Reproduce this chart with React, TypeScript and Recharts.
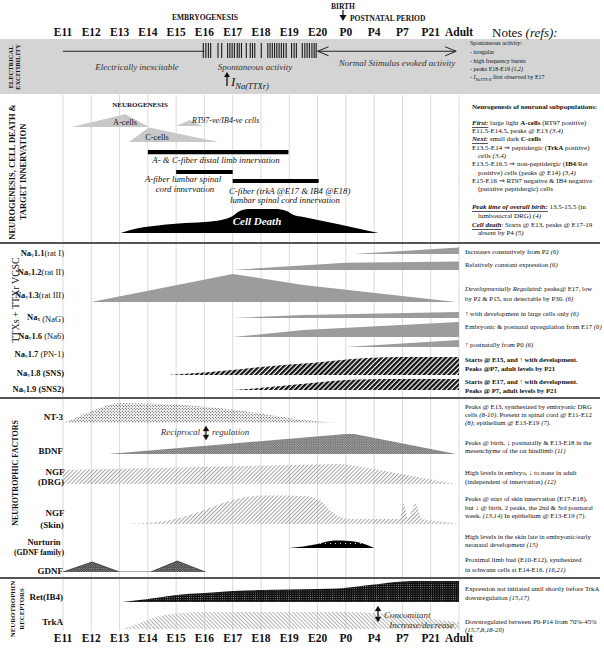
import React from 'react'
import { AreaChart, Area, LineChart, Line, XAxis, YAxis, ReferenceLine } from 'recharts'

const W = 604
const H = 648
const X0 = 63
const X1 = 459
const PLOT_W = X1 - X0
const SPAN = 32
const SERIF = '"Liberation Serif", "Times New Roman", serif'
const GRAY = '#9c9c9c'

// time axis (index of each timepoint is its x value)
const TIMEPOINTS = ['E11', 'E12', 'E13', 'E14', 'E15', 'E16', 'E17', 'E18', 'E19', 'E20', 'P0', 'P4', 'P7', 'P21', 'Adult']
const TICK_IDX = TIMEPOINTS.map((_, i) => i)

// electrical excitability
const INEXCITABLE = [0, 5]
const EVOKED = [9, 13.9]
const SPIKES = [4.96, 5.05, 5.14, 5.22, 5.48, 5.61, 5.82, 5.9, 5.98, 6.06, 6.16, 6.23, 6.31, 6.48, 6.62, 6.7, 6.78, 7.01,
  7.24, 7.32, 7.4, 7.48, 7.56, 7.64, 7.72, 7.8, 7.89, 8.08, 8.17, 8.25, 8.46, 8.55, 8.63, 8.71, 8.8, 8.88, 8.95]

// neurogenesis, innervation, cell death  [time, level]
const A_CELLS = [[0.3, 0], [2.2, 12.7], [3.05, 0]]
const RT97_CELLS = [[4, 0], [4.48, 6], [4.92, 0]]
const C_CELLS = [[2.33, 0], [3.04, 14.5], [5.48, 0]]
const DISTAL_LIMB = [3, 7.97]
const A_FIBER_SC = [4, 6]
const C_FIBER_SC = [6, 9.04]
const CELL_DEATH = [[2.04, 0], [2.6, 4.5], [3.2, 7], [4.1, 9.5], [5, 11], [5.6, 13], [6, 17], [6.25, 22], [6.6, 24],
  [7.5, 24], [7.9, 22], [8.15, 18], [8.5, 16], [11.15, 0]]

// sodium channels
const NAV11 = [[10.3, 0], [14, 6.5]]
const NAV12 = [[6, 0], [8, 3.7], [10, 7.3], [14, 8.4]]
const NAV13 = [[1, 0], [6, 28], [8.5, 17], [13.9, 0]]
const NAX = [[6, 0], [8.5, 3], [14, 6]]
const NAV16 = [[6, 0], [8.5, 7], [14, 15]]
const NAV17 = [[10, 0], [14, 7]]
const NAV18 = [[3.7, 0], [4.2, 1], [6, 5], [7, 8], [8, 10.5], [8.8, 12], [9.5, 14], [10.75, 17], [12, 18], [14, 18]]
const NAV19 = [[6, 0], [6.5, 1], [7.5, 3.5], [8.8, 7], [9.5, 9], [10.5, 10.5], [12, 11], [14, 11]]

// neurotrophic factors
const NT3 = [[0, 0], [0.37, 4], [1.3, 15], [2, 20], [3.6, 19], [5.8, 14], [7.1, 9], [8.2, 4], [9.8, 0]]
const BDNF = [[1.6, 0], [10, 20], [10.3, 20], [13.9, 0]]
const NGF_DRG = [[0, 14], [9.8, 20], [10.4, 18], [13.9, 0]]
const NGF_SKIN = [[2.2, 0], [3.6, 3], [4.8, 12], [6, 24], [7.1, 28.5], [8.5, 28], [9.07, 24], [9.43, 14], [9.8, 7],
  [10.2, 5], [11.9, 5], [12.04, 20], [12.2, 6], [12.46, 20], [12.7, 5], [13.5, 2], [14, 0]]
const NURTURIN = [[8, 0], [8.5, 1.5], [9, 4], [9.6, 7.5], [10.1, 7], [10.6, 4.5], [11, 0]]
const GDNF = [[0, 0], [1.03, 10], [2, 0], [3.1, 0], [4.04, 11], [5.03, 0]]

// receptors
const RET = [[2.1, 0], [3, 3], [4, 7], [5, 9], [6, 11], [7, 12], [8, 12.5], [9, 13], [9.7, 13.5], [11, 17.5], [12, 20.5], [12.3, 21], [14.1, 21]]
const TRKA = [[2.1, 0], [2.6, 5], [3.2, 11], [3.6, 14], [4.2, 16], [5, 17], [10, 17], [14.1, 6]]

const TRACKS = [
  { pts: A_CELLS, base: 127, fill: '#c8c8c8' },
  { pts: RT97_CELLS, base: 126, fill: '#c8c8c8' },
  { pts: C_CELLS, base: 142, fill: '#c8c8c8' },
  { pts: CELL_DEATH, base: 233, fill: '#000', curve: 'monotone' },
  { pts: NAV11, base: 254, fill: GRAY },
  { pts: NAV12, base: 270, fill: GRAY },
  { pts: NAV13, base: 302, fill: GRAY },
  { pts: NAX, base: 318, fill: GRAY },
  { pts: NAV16, base: 337, fill: GRAY },
  { pts: NAV17, base: 347, fill: GRAY },
  { pts: NAV18, base: 375, fill: 'url(#stripeBlack)', curve: 'monotone' },
  { pts: NAV19, base: 390, fill: 'url(#stripeBlack)', curve: 'monotone' },
  { pts: NT3, base: 423, fill: 'url(#dotsSparse)', curve: 'monotone' },
  { pts: BDNF, base: 454, fill: 'url(#dotsGray)' },
  { pts: NGF_DRG, base: 484, fill: 'url(#hatchFwd)' },
  { pts: NGF_SKIN, base: 524, fill: 'url(#hatchFwd)', curve: 'monotone' },
  { pts: NURTURIN, base: 548, fill: 'url(#dotsBlack)', curve: 'monotone' },
  { pts: GDNF, base: 572, fill: 'url(#dotsDark)', stroke: '#333' },
  { pts: RET, base: 602, fill: 'url(#dotsRet)', curve: 'monotone' },
  { pts: TRKA, base: 629, fill: 'url(#hatchBack)', curve: 'monotone' },
]

const BARS = [
  { span: DISTAL_LIMB, top: 150 },
  { span: A_FIBER_SC, top: 169.5 },
  { span: C_FIBER_SC, top: 178.5 },
]

const NOTES_ELEC: [number, string][] = [
  [43, 'Spontaneous activity:'],
  [52, '- irregular'],
  [60.5, '- high frequency bursts'],
  [69, '- peaks E18-E19 _(1,2)_'],
]

const NOTES_NEURO: [number, string, number?][] = [
  [107, '*Neurogenesis of neuronal subpopulations:*'],
  [123, '~First:~ large light *A-cells* (RT97 positive)'],
  [131, 'E11.5-E14.5, peaks @ E13 _(3,4)_'],
  [139, '~Next:~ small dark *C-cells*'],
  [147.5, 'E13.5-E14 ⇒ peptidergic (*TrkA* positive)'],
  [156, 'cells _(3,4)_', 1],
  [164, 'E13.5-E16.5 ⇒ non-peptidergic (*IB4*/Ret'],
  [172.5, 'positive) cells (peaks @ E14) _(3,4)_', 1],
  [181, 'E15-E16 ⇒ RT97 negative & IB4 negative'],
  [189, '(putative peptidergic) cells', 1],
  [207, '~Peak time of overall birth:~ 13.5-15.5 (in'],
  [216, 'lumbosacral DRG) _(4)_', 1],
  [225, '~Cell death~: Starts @ E13, peaks @ E17-19'],
  [233, 'absent by P4 _(5)_', 1],
]

const NOTES_RIGHT: [number, string][] = [
  [251, 'Increases constutively from P2 _(6)_'],
  [264, 'Relatively constant expression _(6)_'],
  [288, '_Developmentally Regulated:_ peaks@ E17, low'],
  [298, 'by P2 & P15, not detectable by P30. _(6)_'],
  [313, '↑ with development in large cells only _(6)_'],
  [326, 'Embryonic & postnatal upregulation from E17 _(6)_'],
  [344, '↑ postnatally from P0 _(6)_'],
  [359, '*Starts @ E15, and ↑ with  development.*'],
  [368, '*Peaks @P7, adult levels by P21*'],
  [381, '*Starts @ E17, and ↑ with  development.*'],
  [389.5, '*Peaks @ P7, adult levels by P21*'],
  [406, 'Peaks @ E13, synthesized by embryonic DRG'],
  [414, 'cells _(8-10)_. Present in spinal cord @ E11-E12'],
  [422, '_(8)_; epithelium @ E13-E19 _(7)_.'],
  [442, 'Peaks @ birth, ↓  postnatally & E13-E18 in the'],
  [450, 'mesenchyme of the rat hindlimb _(11)_'],
  [472, 'High levels in embryo, ↓ to none in adult'],
  [481, '(independent of innervation) _(12)_'],
  [498, 'Peaks @ start of skin innervation (E17-E18),'],
  [507, 'but ↓ @ birth. 2 peaks, the 2nd & 3rd postnatal'],
  [515, 'week. _(13,14)_ In epithelium @ E13-E19 _(7)_.'],
  [536, 'High levels in the skin late in embryonic/early'],
  [544, 'neonatal development _(15)_'],
  [559, 'Proximal limb bud (E10-E12), synthesized'],
  [569, 'in schwann cells at E14-E16. _(16,21)_'],
  [588, 'Expression not initiated until shortly before TrkA'],
  [597, 'downregulation _(15,17)_'],
  [621, 'Downregulated between P0-P14 from 70%-45%'],
  [629, '_(15,7,8,18-20)_'],
]

const NAV_LABELS: [number, string, string, string, boolean][] = [
  [253, 'v', '1.1', '(rat I)', false],
  [272, 'v', '1.2', '(rat II)', false],
  [295, 'v', '1.3', '(rat III)', false],
  [317, 'x', '', ' (NaG)', false],
  [336, 'v', '1.6', ' (Na6)', false],
  [354, 'v', '1.7', ' (PN-1)', false],
  [373, 'v', '1.8', ' (SNS)', true],
  [389, 'v', '1.9', ' (SNS2)', true],
]

function rich(s: string) {
  return s.split(/(\*[^*]+\*|_[^_]+_|~[^~]+~)/).filter(Boolean).map((seg, k) => {
    if (seg[0] === '*') return <tspan key={k} fontWeight={700}>{seg.slice(1, -1)}</tspan>
    if (seg[0] === '_') return <tspan key={k} fontStyle="italic">{seg.slice(1, -1)}</tspan>
    if (seg[0] === '~') return <tspan key={k} fontWeight={700} fontStyle="italic" textDecoration="underline">{seg.slice(1, -1)}</tspan>
    return <tspan key={k}>{seg}</tspan>
  })
}

function Tx({ x, y, s = 7, b = false, i = false, a = 'start', fill = '#111', rot = false, children }: any) {
  return (
    <text x={x} y={y} fontSize={s} fontWeight={b ? 700 : 400} fontStyle={i ? 'italic' : 'normal'} textAnchor={a}
      dominantBaseline="central" fill={fill} fontFamily={SERIF} transform={rot ? `rotate(-90 ${x} ${y})` : undefined}>
      {children}
    </text>
  )
}

function Track({ pts, base, fill, curve = 'linear', stroke, height = SPAN, max = SPAN }: any) {
  const data = pts.map(([t, v]: number[]) => ({ t, v }))
  return (
    <div style={{ position: 'absolute', left: X0, top: base - height, width: PLOT_W, height }}>
      <AreaChart width={PLOT_W} height={height} data={data} margin={{ top: 0, right: 0, bottom: 0, left: 0 }}>
        <XAxis dataKey="t" type="number" domain={[0, 14]} hide allowDataOverflow />
        <YAxis type="number" domain={[0, max]} hide allowDataOverflow />
        <Area dataKey="v" type={curve} fill={fill} fillOpacity={1} stroke={stroke ?? 'none'} strokeWidth={0.8} isAnimationActive={false} />
      </AreaChart>
    </div>
  )
}

function TimeTick({ x, payload }: any) {
  return (
    <g transform={`translate(${x},0) scale(0.85,1)`}>
      <text textAnchor="middle" dominantBaseline="central" y={8} fontFamily={SERIF} fontWeight={700} fontSize={13.5} fill="#111">
        {TIMEPOINTS[payload.value]}
      </text>
    </g>
  )
}

// one strip holding the timepoint labels
function TimeLabels({ top }: { top: number }) {
  const rows = TICK_IDX.map((t) => ({ t, v: 0 }))
  return (
    <div style={{ position: 'absolute', left: 0, top, width: W, height: 16 }}>
      <LineChart width={W} height={16} data={rows} margin={{ top: 0, right: W - X1, bottom: 0, left: X0 }}>
        <XAxis dataKey="t" type="number" domain={[0, 14]} ticks={TICK_IDX} interval={0} orientation="top" mirror
          axisLine={false} tickLine={false} tick={<TimeTick />} />
        <YAxis hide domain={[0, 1]} />
        <Line dataKey="v" stroke="none" dot={false} isAnimationActive={false} />
      </LineChart>
    </div>
  )
}

const arrowHead = (p: any) => {
  const d = p.index === 0 ? 1 : -1
  return <path key={p.index} d={`M${p.cx + 11 * d},${p.cy - 4.5} L${p.cx},${p.cy} L${p.cx + 11 * d},${p.cy + 4.5}`} fill="none" stroke="#222" strokeWidth={1} />
}

function DoubleArrow({ x, y1, y2 }: any) {
  return (
    <g fill="#111" stroke="#111">
      <path d={`M${x},${y1} l-3,5 h6 z`} strokeWidth={0.3} />
      <line x1={x} x2={x} y1={y1 + 5} y2={y2 - 5} strokeWidth={1.2} />
      <path d={`M${x},${y2} l-3,-5 h6 z`} strokeWidth={0.3} />
    </g>
  )
}

export default function App() {
  const gridRows = TICK_IDX.map((t) => ({ t, v: 0 }))
  return (
    <div style={{ position: 'absolute', left: 0, top: 0, width: W, height: H, background: '#fff', overflow: 'hidden' }}>
      <svg width={0} height={0} style={{ position: 'absolute' }}>
        <defs>
          <pattern id="stripeBlack" width="3.5" height="3.5" patternUnits="userSpaceOnUse" patternTransform="rotate(45)">
            <rect width="2.3" height="3.5" fill="#111" />
          </pattern>
          <pattern id="hatchFwd" width="2.8" height="2.8" patternUnits="userSpaceOnUse" patternTransform="rotate(45)">
            <rect width="1" height="2.8" fill="#a4a4a4" />
          </pattern>
          <pattern id="hatchBack" width="2.8" height="2.8" patternUnits="userSpaceOnUse" patternTransform="rotate(-45)">
            <rect width="1" height="2.8" fill="#b2b2b2" />
          </pattern>
          <pattern id="dotsSparse" width="3" height="3" patternUnits="userSpaceOnUse">
            <circle cx="0.75" cy="0.75" r="0.6" fill="#222" />
            <circle cx="2.25" cy="2.25" r="0.6" fill="#222" />
          </pattern>
          <pattern id="dotsGray" width="2.4" height="2.4" patternUnits="userSpaceOnUse">
            <rect width="2.4" height="2.4" fill="#6e6e6e" />
            <circle cx="0.6" cy="0.6" r="0.5" fill="#e6e6e6" />
            <circle cx="1.8" cy="1.8" r="0.5" fill="#e6e6e6" />
          </pattern>
          <pattern id="dotsDark" width="2.4" height="2.4" patternUnits="userSpaceOnUse">
            <rect width="2.4" height="2.4" fill="#3a3a3a" />
            <circle cx="0.6" cy="0.6" r="0.5" fill="#d8d8d8" />
            <circle cx="1.8" cy="1.8" r="0.5" fill="#d8d8d8" />
          </pattern>
          <pattern id="dotsRet" width="2.2" height="2.2" patternUnits="userSpaceOnUse">
            <rect width="2.2" height="2.2" fill="#111" />
            <circle cx="1.1" cy="1.1" r="0.4" fill="#bbb" />
          </pattern>
          <pattern id="dotsBlack" width="5" height="5" patternUnits="userSpaceOnUse">
            <rect width="5" height="5" fill="#000" />
            <circle cx="2.5" cy="2.5" r="0.6" fill="#fff" />
          </pattern>
        </defs>
      </svg>

      {/* excitability band */}
      <div style={{ position: 'absolute', left: 0, top: 39, width: 600, height: 55, background: '#d4d4d4' }} />

      {/* vertical gridlines at each timepoint */}
      <div style={{ position: 'absolute', left: 0, top: 95, width: W, height: 536 }}>
        <LineChart width={W} height={536} data={gridRows} margin={{ top: 0, right: W - X1, bottom: 0, left: X0 }}>
          <XAxis dataKey="t" type="number" domain={[0, 14]} hide />
          <YAxis hide domain={[0, 1]} />
          {TICK_IDX.map((t) => (
            <ReferenceLine key={t} x={t} stroke="#dadada" strokeWidth={1} />
          ))}
          <Line dataKey="v" stroke="none" dot={false} isAnimationActive={false} />
        </LineChart>
      </div>

      <TimeLabels top={24} />
      <TimeLabels top={630} />

      {/* electrical activity */}
      <div style={{ position: 'absolute', left: X0, top: 43, width: PLOT_W, height: 15 }}>
        <LineChart width={PLOT_W} height={15} margin={{ top: 0, right: 0, bottom: 0, left: 0 }}>
          <XAxis dataKey="t" type="number" domain={[0, 14]} hide allowDataOverflow />
          <YAxis type="number" domain={[0, 1]} hide />
          {SPIKES.map((t, k) => (
            <ReferenceLine key={k} x={t} stroke="#1a1a1a" strokeWidth={1.1} />
          ))}
          <Line data={INEXCITABLE.map((t) => ({ t, v: 0.45 }))} dataKey="v" stroke="#222" strokeWidth={1} dot={false} isAnimationActive={false} />
          <Line data={EVOKED.map((t) => ({ t, v: 0.45 }))} dataKey="v" stroke="#222" strokeWidth={1} dot={arrowHead} isAnimationActive={false} />
        </LineChart>
      </div>

      {TRACKS.map((tr, k) => (
        <Track key={k} {...tr} />
      ))}
      {BARS.map((b, k) => (
        <Track key={'b' + k} pts={[[b.span[0], 1], [b.span[1], 1]]} base={b.top + 4.5} height={4.5} max={1} fill="#000" />
      ))}

      {/* annotations */}
      <svg width={W} height={H} style={{ position: 'absolute', left: 0, top: 0, pointerEvents: 'none' }}>
        <Tx x={343} y={6} s={7.5} b a="middle">BIRTH</Tx>
        <line x1={343} x2={343} y1={10} y2={16} stroke="#111" strokeWidth={1.2} />
        <path d="M339.5,15 h7 l-3.5,6 z" fill="#111" />
        <Tx x={205} y={17} s={7.5} b a="middle">EMBRYOGENESIS</Tx>
        <Tx x={350} y={18} s={7.5} b>POSTNATAL PERIOD</Tx>
        <Tx x={492} y={32} s={13}>Notes <tspan fontStyle="italic">(refs):</tspan></Tx>

        <Tx x={10} y={67} s={6.5} b a="middle" rot>ELECTRICAL</Tx>
        <Tx x={17.5} y={67} s={6.5} b a="middle" rot>EXCITIBILITY</Tx>
        <Tx x={137} y={67} s={9} i a="middle" fill="#333">Electrically inexcitable</Tx>
        <Tx x={255} y={67} s={9} i a="middle" fill="#333">Spontaneous activity</Tx>
        <Tx x={397} y={63} s={9} i a="middle" fill="#333">Normal Stimulus evoked activity</Tx>
        <line x1={227} x2={227} y1={86} y2={76} stroke="#111" strokeWidth={1.3} />
        <path d="M224,77 h6 l-3,-5 z" fill="#111" />
        <text x={231} y={86} fontFamily={SERIF} fontStyle="italic" fontSize={13} fill="#111">
          I<tspan fontSize={8.5} dy={3}>Na(TTXr)</tspan>
        </text>
        {NOTES_ELEC.map(([y, s]) => (
          <Tx key={y} x={470} y={y} s={6}>{rich(s)}</Tx>
        ))}
        <Tx x={470} y={77} s={6}>
          - <tspan fontStyle="italic">I</tspan><tspan fontStyle="italic" fontSize={4.2} dy={1.5}>NaTTX-R</tspan>
          <tspan dy={-1.5}> first observed by E17</tspan>
        </Tx>

        <Tx x={12} y={172} s={8.5} b a="middle" rot>NEUROGENESIS, CELL DEATH &amp;</Tx>
        <Tx x={22.5} y={172} s={8.5} b a="middle" rot>TARGET INNERVATION</Tx>
        <Tx x={140} y={105} s={7} b a="middle">NEUROGENESIS</Tx>
        <Tx x={125} y={122} s={8.3} a="middle">A-cells</Tx>
        <Tx x={192} y={120} s={8} i>RT97-ve/IB4-ve cells</Tx>
        <Tx x={157} y={137} s={8.3} a="middle">C-cells</Tx>
        <Tx x={216} y={160} s={8.8} i a="middle">A- &amp; C-fiber distal limb innervation</Tx>
        <Tx x={183} y={179} s={8.8} i a="middle">A-fiber lumbar spinal</Tx>
        <Tx x={185} y={189} s={8.8} i a="middle">cord innervation</Tx>
        <Tx x={229} y={191} s={8.8} i>C-fiber (trkA @E17 &amp; IB4 @E18)</Tx>
        <Tx x={230} y={199.5} s={8.8} i>lumbar spinal cord innervation</Tx>
        <Tx x={257} y={221} s={11} b i a="middle" fill="#fff">Cell Death</Tx>
        {NOTES_NEURO.map(([y, s, ind]) => (
          <Tx key={y} x={472 + (ind ? 6 : 0)} y={y} s={7}>{rich(s)}</Tx>
        ))}

        {[243, 398, 578].map((y) => (
          <line key={y} x1={0} x2={600} y1={y} y2={y} stroke="#555" strokeWidth={1.8} />
        ))}

        <Tx x={15} y={300} s={10} a="middle" rot>TTXs + TTXr VGSC</Tx>
        {NAV_LABELS.map(([y, sub, num, tail, bold]) => (
          <Tx key={y} x={64} y={y} s={8.5} a="end">
            <tspan fontWeight={700}>Na</tspan>
            <tspan fontSize={5.5} dy={2}>{sub}</tspan>
            <tspan fontWeight={700} dy={-2}>{num}</tspan>
            <tspan fontWeight={bold ? 700 : 400}>{tail}</tspan>
          </Tx>
        ))}

        <Tx x={15} y={473} s={8} b a="middle" rot>NEUROTROPHIC FACTORS</Tx>
        <Tx x={63} y={417} s={9} b a="end">NT-3</Tx>
        <Tx x={63} y={451} s={9} b a="end">BDNF</Tx>
        <Tx x={55} y={472} s={9} b a="middle">NGF</Tx>
        <Tx x={51} y={482} s={9} b a="middle">(DRG)</Tx>
        <Tx x={55} y={513} s={9} b a="middle">NGF</Tx>
        <Tx x={52} y={525} s={9} b a="middle">(Skin)</Tx>
        <Tx x={44} y={542} s={8.5} b a="middle">Nurturin</Tx>
        <Tx x={39} y={552} s={7.8} b a="middle">(GDNF family)</Tx>
        <Tx x={63} y={571} s={9} b a="end">GDNF</Tx>
        <Tx x={200} y={432} s={9} i a="end" fill="#333">Reciprocal</Tx>
        <DoubleArrow x={206} y1={426} y2={440} />
        <Tx x={212} y={432} s={9} i fill="#333">regulation</Tx>

        <Tx x={12} y={609} s={6.8} b a="middle" rot>NEUROTROPHIN</Tx>
        <Tx x={21} y={609} s={6.8} b a="middle" rot>RECEPTORS</Tx>
        <Tx x={63} y={597} s={9} b a="end">Ret(IB4)</Tx>
        <Tx x={63} y={622} s={9} b a="end">TrkA</Tx>
        <DoubleArrow x={378} y1={606} y2={622} />
        <Tx x={384} y={615} s={9} i fill="#333">Concomitant</Tx>
        <Tx x={454} y={625} s={9} i a="end" fill="#333">Increase/decrease</Tx>

        {NOTES_RIGHT.map(([y, s]) => (
          <Tx key={y} x={465} y={y} s={6.8}>{rich(s)}</Tx>
        ))}
      </svg>
    </div>
  )
}
